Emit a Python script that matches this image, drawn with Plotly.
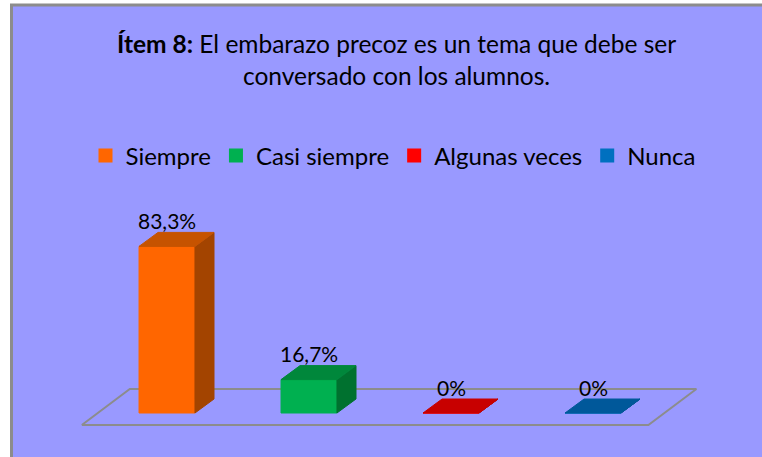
import plotly.graph_objects as go

# ---------------- data ----------------
categories = ["Siempre", "Casi siempre", "Algunas veces", "Nunca"]
values = [83.3, 16.7, 0, 0]
value_labels = ["83,3%", "16,7%", "0%", "0%"]
legend_colors = ["#FF6600", "#00B050", "#FF0000", "#0070C0"]
front_colors = ["#FF6600", "#00B050", "#FF0000", "#0070C0"]
top_colors = ["#C65300", "#00873B", "#C80000", "#00589A"]
side_colors = ["#A34400", "#00712F", "#A00000", "#004A80"]
title_bold = "Ítem 8:"
title_rest = " El embarazo precoz es un tema que debe ser<br>conversado con los alumnos."

# ---------------- style ----------------
W, H = 762, 457
BAR_W = 0.394      # bar width in category units
DX, DY = 0.134, 7.0  # bar depth offset (x units, y units)
FLOOR_PAD_L, FLOOR_PAD_R = 0.6, 0.39
FLOOR_FRONT, FLOOR_BACK = -6.0, 12.0
FLOOR_DX = 0.338
FONT = "Lato"
BG = "#9999FF"

fig = go.Figure()

n = len(categories)
# floor parallelogram
fx0, fx1 = -FLOOR_PAD_L, (n - 1) + FLOOR_PAD_R
fig.add_trace(go.Scatter(
    x=[fx0, fx1, fx1 + FLOOR_DX, fx0 + FLOOR_DX, fx0],
    y=[FLOOR_FRONT, FLOOR_FRONT, FLOOR_BACK, FLOOR_BACK, FLOOR_FRONT],
    mode="lines", line=dict(color="#8C8C8C", width=2),
    hoverinfo="skip", showlegend=False))

# 3D bars
for i, (cat, v) in enumerate(zip(categories, values)):
    x0, x1 = i - BAR_W / 2, i + BAR_W / 2
    # front
    fig.add_trace(go.Scatter(
        x=[x0, x1, x1, x0, x0], y=[0, 0, v, v, 0],
        fill="toself", fillcolor=front_colors[i], mode="lines",
        line=dict(color=front_colors[i], width=1),
        hoverinfo="skip", showlegend=False))
    # side
    fig.add_trace(go.Scatter(
        x=[x1, x1 + DX, x1 + DX, x1, x1], y=[0, DY, v + DY, v, 0],
        fill="toself", fillcolor=side_colors[i], mode="lines",
        line=dict(color=side_colors[i], width=1),
        hoverinfo="skip", showlegend=False))
    # top
    fig.add_trace(go.Scatter(
        x=[x0, x1, x1 + DX, x0 + DX, x0], y=[v, v, v + DY, v + DY, v],
        fill="toself", fillcolor=top_colors[i], mode="lines",
        line=dict(color=top_colors[i], width=1),
        hoverinfo="skip", showlegend=False))
    fig.add_annotation(x=i, y=v + DY + 6, text=value_labels[i], showarrow=False,
                       xanchor="center", yanchor="middle",
                       font=dict(family=FONT, size=21, color="black"))

# legend entries
for cat, c in zip(categories, legend_colors):
    fig.add_trace(go.Scatter(x=[None], y=[None], mode="markers", name=cat,
                             marker=dict(symbol="square", size=14, color=c)))

# pixel mapping: x center of first bar at px 167, 142 px per category; y=0 at px 413, 2 px per unit
x_range = [(0 - 167) / 142, (W - 167) / 142]
y_range = [(413 - H) / 2, 413 / 2]

fig.update_layout(
    width=W, height=H, autosize=False,
    margin=dict(l=0, r=0, t=0, b=0),
    paper_bgcolor="white", plot_bgcolor="rgba(0,0,0,0)",
    xaxis=dict(range=x_range, visible=False, fixedrange=True),
    yaxis=dict(range=y_range, visible=False, fixedrange=True),
    font=dict(family=FONT, size=24, color="black"),
    showlegend=True,
    legend=dict(orientation="h", x=393 / W, y=1 - 156 / H, xanchor="center", yanchor="middle",
                bgcolor="rgba(0,0,0,0)", font=dict(family=FONT, size=24, color="black"),
                traceorder="normal"),
    shapes=[dict(type="rect", xref="paper", yref="paper", layer="below",
                 x0=11.5 / W, x1=1.05, y0=-0.05, y1=1 - 5 / H,
                 fillcolor=BG, line=dict(color="#8C8C8C", width=3))],
)
fig.add_annotation(xref="paper", yref="paper", x=396 / W, y=1 - 59 / H,
                   text=f"<b>{title_bold}</b>{title_rest}", showarrow=False,
                   xanchor="center", yanchor="middle", align="center",
                   font=dict(family=FONT, size=24.5, color="black"))

fig.write_html("out.html", config={"displayModeBar": False},
               post_script="document.body.style.margin='0';")
